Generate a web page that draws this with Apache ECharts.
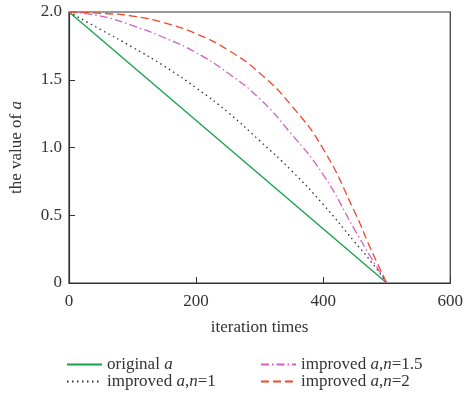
<!DOCTYPE html>
<html>
<head>
<meta charset="utf-8">
<script src="https://cdn.jsdelivr.net/npm/echarts@6/dist/echarts.min.js"></script>
<style>html,body{margin:0;padding:0;background:#fff}#c{width:466px;height:402px}</style>
</head>
<body>
<div id="c"></div>
<script>
var iterations = [0, 50, 100, 150, 200, 250, 300, 350, 400, 450, 475, 500];
var originalIter = [0, 500];
var originalA = [2.0, 0];
var improvedN1 = [2.0, 1.87, 1.74, 1.60, 1.44, 1.26, 1.05, 0.83, 0.58, 0.30, 0.16, 0];
var improvedN15 = [2.0, 1.97, 1.90, 1.81, 1.70, 1.55, 1.36, 1.10, 0.80, 0.39, 0.19, 0];
var improvedN2 = [2.0, 1.99, 1.97, 1.92, 1.84, 1.72, 1.55, 1.31, 0.99, 0.52, 0.25, 0];
var xTicks = [0, 200, 400, 600];
var yTicks = [0, 0.5, 1.0, 1.5, 2.0];
var names = ['original a', 'improved a,n=1', 'improved a,n=1.5', 'improved a,n=2'];
var legendLabels = ['original {it|a}', 'improved {it|a},{it|n}=1', 'improved {it|a},{it|n}=1.5', 'improved {it|a},{it|n}=2'];

function pairs(xs, ys) { return xs.map(function (x, i) { return [x, ys[i]]; }); }
var FONT = 'Liberation Serif';
var FS = 17;
var rich = { it: { fontStyle: 'italic', fontFamily: FONT, fontSize: FS, color: '#333' } };
function legendFmt(name) { var i = names.indexOf(name); return i >= 0 ? legendLabels[i] : name; }

var chart = echarts.init(document.getElementById('c'));
function makeLegend(left, data) {
  return {
    orient: 'vertical', top: 356, left: left, padding: 0, itemWidth: 35, itemHeight: 14, itemGap: 0,
    textStyle: { fontFamily: FONT, fontSize: FS, color: '#333', rich: rich },
    itemStyle: { opacity: 0 },
    formatter: legendFmt, selectedMode: false, data: data
  };
}
chart.setOption({
  animation: false,
  grid: { left: 67, right: 13, top: 12, bottom: 119, show: true, borderColor: '#333', borderWidth: 1.2, backgroundColor: 'transparent' },
  legend: [ makeLegend(66, [names[0], names[1]]), makeLegend(260, [names[2], names[3]]) ],
  xAxis: {
    type: 'value', min: xTicks[0], max: xTicks[xTicks.length - 1], interval: 200,
    name: 'iteration times', nameLocation: 'middle', nameGap: 36,
    nameTextStyle: { fontFamily: FONT, fontSize: FS, color: '#333' },
    axisLine: { show: true, lineStyle: { color: '#333', width: 1.2 } },
    axisTick: { show: true, inside: true, length: 6, lineStyle: { color: '#333' } },
    axisLabel: { fontFamily: FONT, fontSize: FS, color: '#333', margin: 10 },
    splitLine: { show: false }
  },
  yAxis: {
    type: 'value', min: yTicks[0], max: yTicks[yTicks.length - 1], interval: 0.5,
    name: 'the value of {it|a}', nameLocation: 'middle', nameGap: 44, nameRotate: 90,
    nameTextStyle: { fontFamily: FONT, fontSize: FS, color: '#333', rich: rich },
    axisLine: { show: true, lineStyle: { color: '#333', width: 1.2 } },
    axisTick: { show: true, inside: true, length: 6, lineStyle: { color: '#333' } },
    axisLabel: { fontFamily: FONT, fontSize: FS, color: '#333', margin: 7,
      formatter: function (v) { return v === 0 ? '0' : v.toFixed(1); } },
    splitLine: { show: false }
  },
  series: [
    { name: names[0], type: 'line', symbol: 'none', data: pairs(originalIter, originalA),
      lineStyle: { color: '#13a047', width: 1.3, type: 'solid' }, itemStyle: { color: '#13a047' } },
    { name: names[1], type: 'line', symbol: 'none', smooth: 0.5, data: pairs(iterations, improvedN1),
      lineStyle: { color: '#333', width: 1.3, type: [1.5, 3.5] }, itemStyle: { color: '#333' } },
    { name: names[2], type: 'line', symbol: 'none', smooth: 0.5, data: pairs(iterations, improvedN15),
      lineStyle: { color: '#d35fc5', width: 1.3, type: [8, 3, 1.5, 3] }, itemStyle: { color: '#d35fc5' } },
    { name: names[3], type: 'line', symbol: 'none', smooth: 0.5, data: pairs(iterations, improvedN2),
      lineStyle: { color: '#f0492a', width: 1.3, type: [8, 4] }, itemStyle: { color: '#f0492a' } }
  ]
});
</script>
</body>
</html>
